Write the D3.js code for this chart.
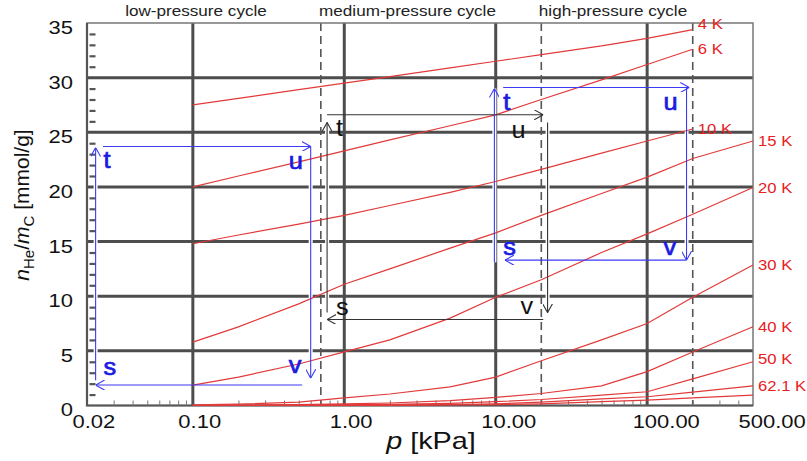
<!DOCTYPE html>
<html>
<head>
<meta charset="utf-8">
<script src="https://cdn.jsdelivr.net/npm/d3@7"></script>
<style>
  body { margin: 0; background: #fff; }
  text { font-family: "Liberation Sans", Arial, sans-serif; }
</style>
</head>
<body>
<svg width="807" height="461"></svg>
<script>
// pressure grid of the isotherms, kPa
var pressures = [0.1, 0.2, 0.5, 1, 2, 5, 10, 20, 50, 100, 200, 500];

// He uptake, mmol/g (null = not measured)
var n4K   = [27.5, 28.1, 28.9, 29.5, 30.1, 30.9, 31.5, 32.1, 32.9, 33.6, 34.4, null];
var n6K   = [20.0, 21.0, 22.3, 23.3, 24.3, 25.6, 26.6, 28.0, 29.8, 31.2, 32.6, null];
var n10K  = [14.8, 15.6, 16.6, 17.4, 18.3, 19.5, 20.5, 21.6, 23.1, 24.2, 25.3, null];
var n15K  = [5.8, 7.2, 9.3, 11.1, 12.5, 14.4, 15.8, 17.4, 19.4, 20.9, 22.6, 24.2];
var n20K  = [1.87, 2.6, 3.8, 4.9, 6.0, 8.0, 9.9, 11.5, 14.0, 15.7, 17.5, 19.95];
var n30K  = [0.05, 0.12, 0.3, 0.7, 1.05, 1.7, 2.6, 4.1, 6.0, 7.5, 9.9, 12.85];
var n40K  = [0, 0.02, 0.08, 0.15, 0.23, 0.45, 0.75, 1.1, 1.8, 3.1, 4.9, 7.2];
var n50K  = [0, 0.01, 0.03, 0.05, 0.1, 0.2, 0.35, 0.55, 0.95, 1.26, 2.44, 4.0];
var n62K  = [0, 0, 0.01, 0.02, 0.04, 0.09, 0.15, 0.3, 0.6, 0.8, 1.23, 1.8];
var n77K  = [0, 0, 0, 0.01, 0.02, 0.05, 0.08, 0.15, 0.35, 0.5, 0.7, 0.95];

var isotherms = [n4K, n6K, n10K, n15K, n20K, n30K, n40K, n50K, n62K, n77K];
var isothermLabels = ["4 K", "6 K", "10 K", "15 K", "20 K", "30 K", "40 K", "50 K", "62.1 K", ""];

// axes
var xTickValues = [0.02, 0.1, 1, 10, 100, 500];
var xTickLabels = ["0.02", "0.10", "1.00", "10.00", "100.00", "500.00"];
var yTickValues = [0, 5, 10, 15, 20, 25, 30, 35];
var gridX = [0.1, 1, 10, 100];
var gridY = [5, 10, 15, 20, 25, 30];
var dashX = [0.7, 20, 200];

// cycles: segments [p1, n1, p2, n2] in order s->t, t->u, u->v, v->s
var lowCycle  = [[0.0228, 2.3, 0.0228, 23.6], [0.0255, 23.7, 0.6, 23.7], [0.6, 23.7, 0.6, 2.5], [0.527, 1.87, 0.0228, 1.87]];
var midCycle  = [[0.77, 8.5, 0.77, 25.9], [0.77, 26.6, 20.6, 26.6], [22, 25.9, 22, 8.5], [20.6, 7.87, 0.77, 7.87]];
var highCycle = [[9.8, 13.1, 9.8, 29.0], [11.2, 29.1, 190, 29.1], [182, 29.1, 182, 13.3], [182, 13.3, 11.5, 13.3]];
var cycleLetters = ["s", "t", "u", "v"];
var cycleTitles = ["low-pressure cycle", "medium-pressure cycle", "high-pressure cycle"];

var svg = d3.select("svg");
svg.append("rect").attr("width", 807).attr("height", 461).attr("fill", "#fff");

var plotL = 87, plotR = 753, plotT = 23, plotB = 405.5;
var x = d3.scaleLog().domain([0.02, 500]).range([plotL, plotR]);
var y = d3.scaleLinear().domain([0, 35]).range([plotB, plotT]);

// the picture is stretched sideways, so text is widened too
function widen(sel, k) {
  sel.each(function () {
    var w = this.getComputedTextLength();
    d3.select(this).attr("textLength", w * k).attr("lengthAdjust", "spacingAndGlyphs");
  });
}

// grid
svg.append("g").selectAll("line").data(gridX).enter().append("line")
  .attr("x1", function (d) { return x(d); }).attr("x2", function (d) { return x(d); })
  .attr("y1", plotT).attr("y2", plotB)
  .attr("stroke", "#4d4d4d").attr("stroke-width", 3);
svg.append("g").selectAll("line").data(gridY).enter().append("line")
  .attr("x1", plotL).attr("x2", plotR)
  .attr("y1", function (d) { return y(d); }).attr("y2", function (d) { return y(d); })
  .attr("stroke", "#4d4d4d").attr("stroke-width", 3);

// white gap under the vertical arrows
var cycles = [lowCycle, midCycle, highCycle];
cycles.forEach(function (c) {
  [c[0], c[2]].forEach(function (s) {
    svg.append("line")
      .attr("x1", x(s[0])).attr("x2", x(s[2]))
      .attr("y1", y(s[1])).attr("y2", y(s[3]))
      .attr("stroke", "#fff").attr("stroke-width", 4);
  });
});

// dashed limits
svg.append("g").selectAll("line").data(dashX).enter().append("line")
  .attr("x1", function (d) { return x(d); }).attr("x2", function (d) { return x(d); })
  .attr("y1", plotT).attr("y2", plotB)
  .attr("stroke", "#555").attr("stroke-width", 1.6).attr("stroke-dasharray", "8,5");

// frame
svg.append("rect").attr("x", plotL).attr("y", plotT)
  .attr("width", plotR - plotL).attr("height", plotB - plotT)
  .attr("fill", "none").attr("stroke", "#777").attr("stroke-width", 1.5);
svg.append("path").attr("d", "M" + plotL + "," + plotT + "V" + plotB + "H" + plotR)
  .attr("fill", "none").attr("stroke", "#555").attr("stroke-width", 2.2);

// minor ticks
var minorX = x.ticks().filter(function (d) { return xTickValues.indexOf(+d.toPrecision(3)) < 0; });
svg.append("g").attr("transform", "translate(0," + plotB + ")")
  .call(d3.axisBottom(x).tickValues(minorX).tickSize(-5).tickFormat(""))
  .call(function (g) { g.select(".domain").remove(); })
  .selectAll("line").attr("stroke", "#777");
var minorY = d3.range(1, 35).filter(function (d) { return d % 5 !== 0; });
svg.append("g").attr("transform", "translate(" + (plotL + 2.5) + ",0)")
  .call(d3.axisLeft(y).tickValues(minorY).tickSize(-6).tickFormat(""))
  .call(function (g) { g.select(".domain").remove(); })
  .selectAll("line").attr("stroke", "#555").attr("stroke-width", 2.2);

// tick labels
var xAxis = svg.append("g").attr("transform", "translate(0," + plotB + ")")
  .call(d3.axisBottom(x).tickValues(xTickValues).tickSize(0)
    .tickFormat(function (d, i) { return xTickLabels[i]; }));
xAxis.select(".domain").remove();
xAxis.selectAll("text").attr("y", 22.5).attr("dy", null).attr("dx", -15)
  .attr("text-anchor", "start").attr("fill", "#111")
  .style("font-size", "18px").style("font-family", "Liberation Sans, Arial, sans-serif")
  .call(widen, 1.22);

var yAxis = svg.append("g").attr("transform", "translate(" + plotL + ",0)")
  .call(d3.axisLeft(y).tickValues(yTickValues).tickSize(0).tickPadding(14));
yAxis.select(".domain").remove();
yAxis.selectAll("text").attr("dy", "0.58em").attr("fill", "#111")
  .style("font-size", "18px").style("font-family", "Liberation Sans, Arial, sans-serif")
  .call(widen, 1.22);

// isotherms
var line = d3.line()
  .defined(function (d) { return d[1] != null; })
  .x(function (d) { return x(d[0]); })
  .y(function (d) { return y(d[1]); });

isotherms.forEach(function (vals, i) {
  var pts = pressures.map(function (p, j) { return [p, vals[j]]; });
  svg.append("path").datum(pts).attr("d", line)
    .attr("fill", "none").attr("stroke", "#e23a3a").attr("stroke-width", 1.2);
  var last = pts.filter(function (d) { return d[1] != null; }).pop();
  svg.append("text")
    .attr("x", x(last[0]) + 5)
    .attr("y", y(last[1]) + (i === 0 ? -6 : 0) + (i === 7 ? -3 : 0))
    .attr("dy", "0.35em")
    .attr("fill", "#e8201e")
    .style("font-size", "14.5px")
    .text(isothermLabels[i])
    .call(widen, 1.15);
});

// arrow heads
var defs = svg.append("defs");
[["arrowBlue", "#3b3bf2"], ["arrowBlack", "#333"]].forEach(function (m) {
  defs.append("marker").attr("id", m[0])
    .attr("viewBox", "0 0 9 10").attr("refX", 9).attr("refY", 5)
    .attr("markerWidth", 9).attr("markerHeight", 10)
    .attr("markerUnits", "userSpaceOnUse").attr("orient", "auto")
    .append("path").attr("d", "M0,0L9,5L0,10")
    .attr("fill", "none").attr("stroke", m[1]).attr("stroke-width", 1.1);
});

// cycles
var cycleStyle = [
  { line: "#3b3bf2", text: "#1a1ae0", marker: "arrowBlue", halo: 0.7,
    off: [[8, -10], [8, 22], [-22, 23], [-22, -12]] },
  { line: "#333", text: "#111", marker: "arrowBlack", halo: 0,
    off: [[9, -4], [9, 21], [-36, 23], [-27, -5]] },
  { line: "#3b3bf2", text: "#1a1ae0", marker: "arrowBlue", halo: 0.7,
    off: [[9, -5], [9, 23], [-23, 23], [-23, -5]] }
];

cycles.forEach(function (c, k) {
  var st = cycleStyle[k];
  svg.append("g").selectAll("line").data(c).enter().append("line")
    .attr("x1", function (s) { return x(s[0]); }).attr("y1", function (s) { return y(s[1]); })
    .attr("x2", function (s) { return x(s[2]); }).attr("y2", function (s) { return y(s[3]); })
    .attr("stroke", st.line).attr("stroke-width", 1.1)
    .attr("marker-end", "url(#" + st.marker + ")");

  var L = x(c[0][0]), R = x(c[2][0]), T = y(c[1][1]), B = y(c[3][1]);
  var corners = [[L, B], [L, T], [R, T], [R, B]];
  svg.append("g").selectAll("text").data(cycleLetters).enter().append("text")
    .attr("x", function (d, i) { return corners[i][0] + st.off[i][0]; })
    .attr("y", function (d, i) { return corners[i][1] + st.off[i][1]; })
    .attr("fill", st.text)
    .attr("stroke", st.text).attr("stroke-width", st.halo)
    .style("font-size", "23px")
    .text(function (d) { return d; })
    .call(widen, 1.1);
});

// cycle titles
var titleX = [196, 407.5, 613];
svg.append("g").selectAll("text").data(cycleTitles).enter().append("text")
  .attr("x", function (d, i) { return titleX[i]; })
  .attr("y", 15.5)
  .attr("text-anchor", "middle")
  .attr("fill", "#222")
  .style("font-size", "14.5px")
  .text(function (d) { return d; })
  .call(widen, 1.18);

// X label
var xl = svg.append("text")
  .attr("x", 431).attr("y", 449)
  .attr("text-anchor", "middle")
  .attr("fill", "#111")
  .style("font-size", "24px");
xl.append("tspan").style("font-style", "italic").text("p");
xl.append("tspan").text(" [kPa]");
xl.call(widen, 1.2);

// Y label
var yl = svg.append("text")
  .attr("text-anchor", "middle")
  .attr("transform", "translate(29,205)rotate(-90)")
  .attr("fill", "#111")
  .style("font-size", "21px");
yl.append("tspan").style("font-style", "italic").text("n");
yl.append("tspan").attr("dy", 5).style("font-size", "15px").text("He");
yl.append("tspan").attr("dy", -5).text("/");
yl.append("tspan").style("font-style", "italic").text("m");
yl.append("tspan").attr("dy", 5).style("font-size", "15px").text("C");
yl.append("tspan").attr("dy", -5).text(" [mmol/g]");
</script>
</body>
</html>
